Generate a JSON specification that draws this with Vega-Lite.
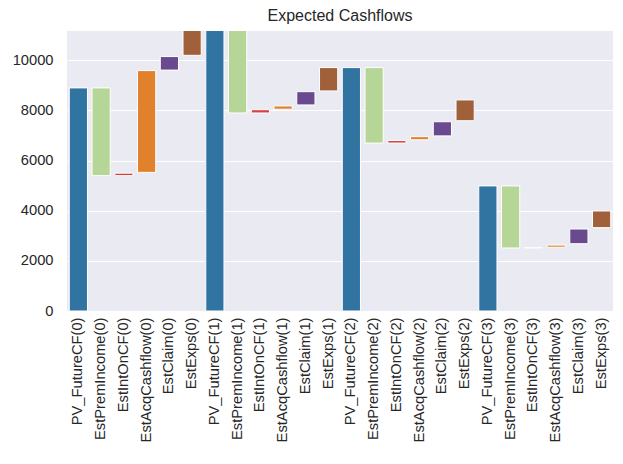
{
  "$schema": "https://vega.github.io/schema/vega-lite/v6.json",
  "autosize": {"type": "none"},
  "padding": {"left": 67, "top": 31, "right": 10, "bottom": 153},
  "width": 546,
  "height": 280,
  "background": "white",
  "title": {"text": "Expected Cashflows", "font": "Liberation Sans", "fontSize": 16, "fontWeight": "normal", "color": "#262626", "offset": 7},
  "config": {
    "view": {"fill": "#EAEAF2", "stroke": null},
    "axis": {"labelFont": "Liberation Sans", "labelFontSize": 14.7, "labelColor": "#262626", "domain": false, "ticks": false}
  },
  "data": {"values": [
    {"item": "PV_FutureCF(0)", "type": "PV", "start": 0, "end": 8900},
    {"item": "EstPremIncome(0)", "type": "Prem", "start": 5400, "end": 8900},
    {"item": "EstIntOnCF(0)", "type": "Int", "start": 5400, "end": 5500},
    {"item": "EstAcqCashflow(0)", "type": "Acq", "start": 5530, "end": 9590},
    {"item": "EstClaim(0)", "type": "Claim", "start": 9610, "end": 10150},
    {"item": "EstExps(0)", "type": "Exps", "start": 10200, "end": 11300},
    {"item": "PV_FutureCF(1)", "type": "PV", "start": 0, "end": 11300},
    {"item": "EstPremIncome(1)", "type": "Prem", "start": 7900, "end": 11300},
    {"item": "EstIntOnCF(1)", "type": "Int", "start": 7900, "end": 8030},
    {"item": "EstAcqCashflow(1)", "type": "Acq", "start": 8050, "end": 8180},
    {"item": "EstClaim(1)", "type": "Claim", "start": 8220, "end": 8750},
    {"item": "EstExps(1)", "type": "Exps", "start": 8780, "end": 9710},
    {"item": "PV_FutureCF(2)", "type": "PV", "start": 0, "end": 9710},
    {"item": "EstPremIncome(2)", "type": "Prem", "start": 6700, "end": 9710},
    {"item": "EstIntOnCF(2)", "type": "Int", "start": 6700, "end": 6800},
    {"item": "EstAcqCashflow(2)", "type": "Acq", "start": 6830, "end": 6955},
    {"item": "EstClaim(2)", "type": "Claim", "start": 6985, "end": 7550},
    {"item": "EstExps(2)", "type": "Exps", "start": 7590, "end": 8420},
    {"item": "PV_FutureCF(3)", "type": "PV", "start": 0, "end": 4990},
    {"item": "EstPremIncome(3)", "type": "Prem", "start": 2515, "end": 4990},
    {"item": "EstIntOnCF(3)", "type": "Int", "start": 2515, "end": 2530},
    {"item": "EstAcqCashflow(3)", "type": "Acq", "start": 2545, "end": 2630},
    {"item": "EstClaim(3)", "type": "Claim", "start": 2685, "end": 3270},
    {"item": "EstExps(3)", "type": "Exps", "start": 3325, "end": 3990}
  ]},
  "mark": {"type": "bar", "stroke": "white", "strokeWidth": 1, "clip": true},
  "encoding": {
    "x": {"field": "item", "type": "nominal", "sort": null, "title": null,
      "scale": {"paddingInner": 0.2, "paddingOuter": 0.1},
      "axis": {"labelAngle": -90, "labelPadding": 6, "grid": false, "labelLimit": 200}},
    "y": {"field": "end", "type": "quantitative", "title": null,
      "scale": {"domain": [0, 11170], "nice": false},
      "axis": {"values": [0, 2000, 4000, 6000, 8000, 10000], "format": "d", "gridColor": "white", "gridWidth": 1, "labelPadding": 14}},
    "y2": {"field": "start"},
    "color": {"field": "type", "type": "nominal", "legend": null,
      "scale": {"domain": ["PV", "Prem", "Int", "Acq", "Claim", "Exps"],
        "range": ["#3274a1", "#b5d696", "#d44344", "#e1812c", "#6a4a8f", "#a0603a"]}}
  }
}
